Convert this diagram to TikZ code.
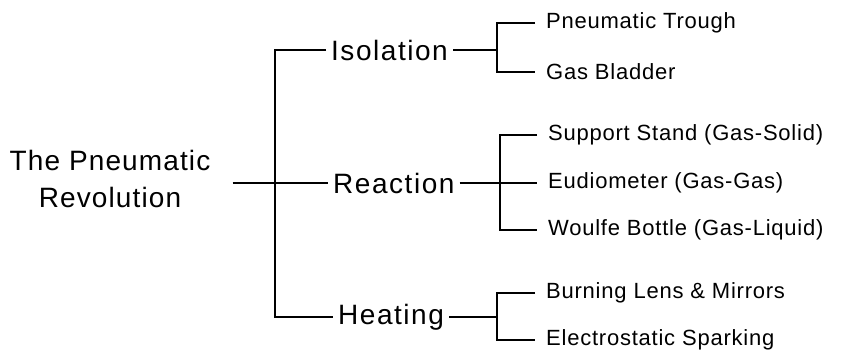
\documentclass[tikz,border=0pt]{standalone}
\usepackage{fontspec}
\setmainfont{Liberation Sans}
\usepackage{tikz}
\usetikzlibrary{positioning,calc}

\begin{document}
\begin{tikzpicture}[
      x=1pt,y=-1pt,
      link/.style={draw=black,line width=1.6pt},
      title/.style={align=center,font=\fontsize{28}{37}\selectfont\addfontfeature{LetterSpace=4},inner xsep=22pt},
      topic/.style={anchor=west,font=\fontsize{28}{30}\selectfont\addfontfeature{LetterSpace=5.5},inner xsep=5pt},
      leaf/.style={anchor=west,font=\fontsize{22}{26}\selectfont\addfontfeature{LetterSpace=3.5},inner xsep=11pt}
    ]
      \useasboundingbox (0,0) rectangle (841,352);

      \node[title] (root) at (110,179) {The Pneumatic\\Revolution};

      \node[topic] (isol) at (326,50) {Isolation};
      \node[topic] (react) at (328,183) {Reaction};
      \node[topic] (heat) at (333,317) {Heating};

      \coordinate (rootfork) at (275,183);
      \draw[link] (react.west -| root.east) -- (react.west);
      \draw[link] (isol.west) -| (rootfork) |- (heat.west);

      % isolation branch
      \node[leaf] (trough) at (535,23) {Pneumatic Trough};
      \node[leaf] (bladder) at (535,72) {Gas Bladder};
      \coordinate (isolfork) at (497,50);
      \draw[link] (isol.east) -- (isolfork);
      \draw[link] (trough.west) -| (isolfork) |- (bladder.west);

      % reaction branch
      \node[leaf] (stand) at (537,135) {Support Stand (Gas-Solid)};
      \node[leaf] (eudio) at (537,183) {Eudiometer (Gas-Gas)};
      \node[leaf] (woulfe) at (537,230) {Woulfe Bottle (Gas-Liquid)};
      \coordinate (reactfork) at (500,183);
      \draw[link] (react.east) -- (eudio.west);
      \draw[link] (stand.west) -| (reactfork) |- (woulfe.west);

      % heating branch
      \node[leaf] (lens) at (535,293) {Burning Lens \& Mirrors};
      \node[leaf] (spark) at (535,340) {Electrostatic Sparking};
      \coordinate (heatfork) at (497,317);
      \draw[link] (heat.east) -- (heatfork);
      \draw[link] (lens.west) -| (heatfork) |- (spark.west);
    \end{tikzpicture}
\end{document}
